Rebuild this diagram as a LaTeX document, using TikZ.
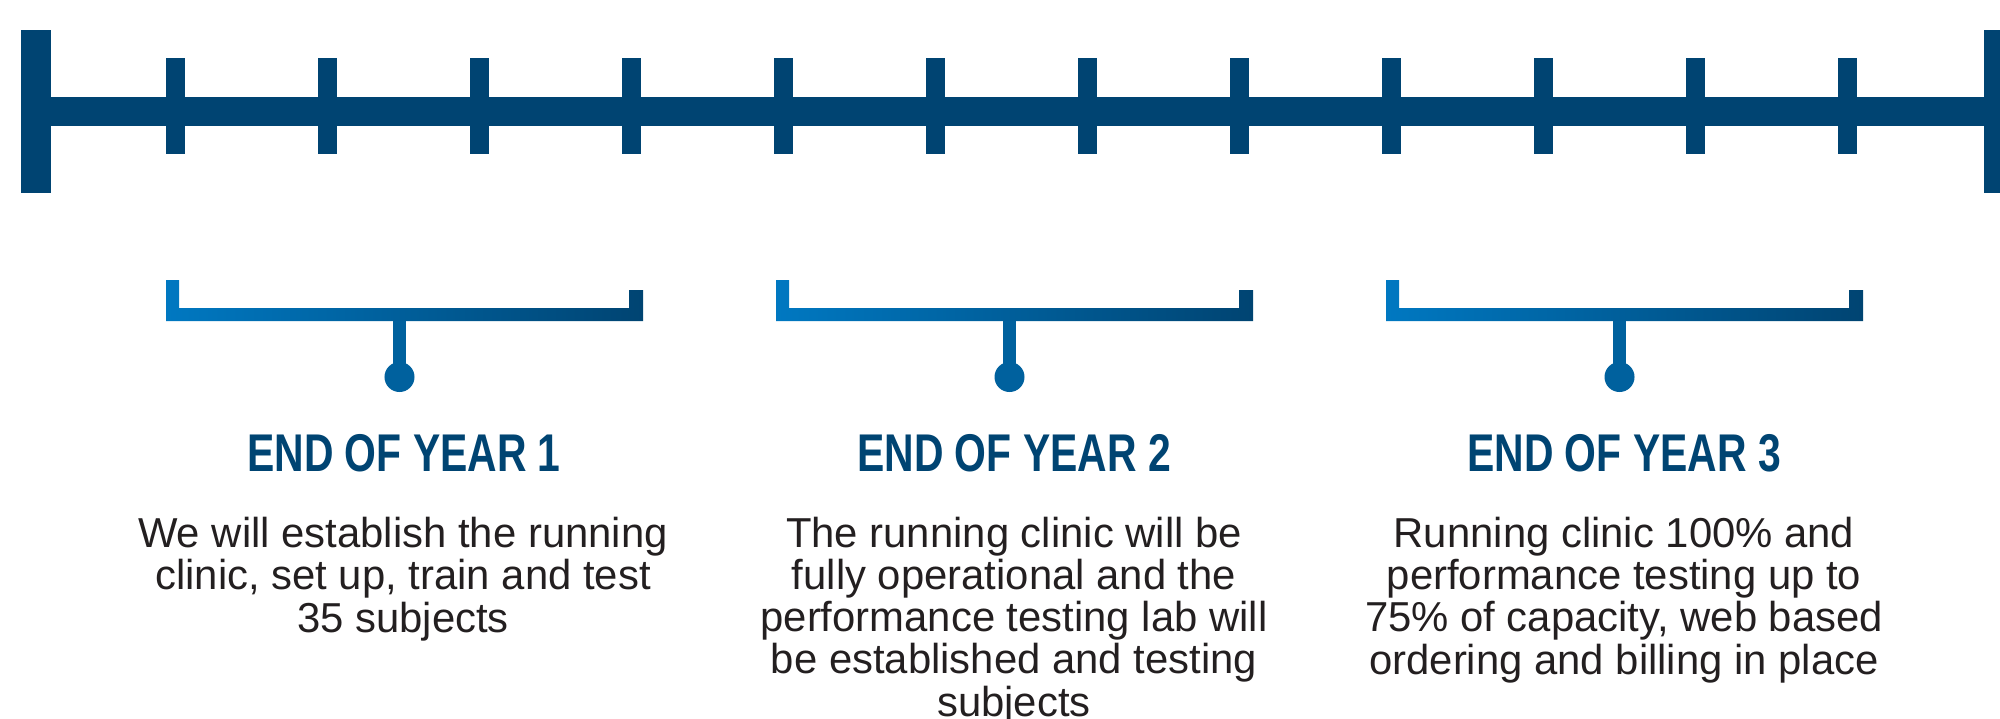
\documentclass[tikz,border=0pt]{standalone}
\usepackage{fontspec}
\setmainfont{Liberation Sans}
\newfontfamily\headfont[FakeStretch=0.77]{Liberation Sans}
\definecolor{navy}{RGB}{0,68,114}
\definecolor{lightblue}{RGB}{0,120,193}
\definecolor{midblue}{RGB}{0,97,158}
\definecolor{ink}{RGB}{35,31,32}
\tikzset{
  head/.style={anchor=base,text=navy,font=\headfont\bfseries\fontsize{15.1}{18}\selectfont},
  body/.style={anchor=base,align=center,text=ink,font=\fontsize{11.9}{11.95}\selectfont},
  pin/.style={circle,fill=midblue,minimum size=0.3cm,inner sep=0pt},
  stem/.style={midblue,line width=0.13cm},
  bracket/.style={left color=lightblue,right color=navy},
}
\begin{document}
\begin{tikzpicture}[x=0.01cm,y=-0.01cm]
\pgfmathsetmacro{\w}{610}
\pgfmathsetmacro{\t}{152}
\pgfmathsetmacro{\ll}{42}
\useasboundingbox (0,0) rectangle (2000,718);
%
\fill[navy] (36,97) rectangle (2000,126);
\fill[navy] (21,30) rectangle ++(30,163);
\fill[navy] (1984,30) rectangle ++(30,163);
\foreach \i in {0,...,11}
  \fill[navy] (166+\i*\t,58) rectangle ++(19,96);
%
\shade[bracket] (166,280) -- ++(13,0) -- ++(0,28) -- ++(450,0) -- ++(0,-18) -- ++(14,0) -- ++(0,31) -- ++(-477,0) -- cycle;
\coordinate (b1) at (399.5,321);
\node[pin] (p1) at (399.5,377) {};
\draw[stem] (b1) -- (p1.center);
\node[head] (h1) at (404,471) {END OF YEAR 1};
\node[body] (d1) at (403,548+2*\ll) {We will establish the running\\clinic, set up, train and test\\35 subjects};
%
\shade[bracket] (1*\w+166,280) -- ++(13,0) -- ++(0,28) -- ++(450,0) -- ++(0,-18) -- ++(14,0) -- ++(0,31) -- ++(-477,0) -- cycle;
\coordinate (b2) at (1*\w+399.5,321);
\node[pin] (p2) at (1*\w+399.5,377) {};
\draw[stem] (b2) -- (p2.center);
\node[head] (h2) at (1*\w+404,471) {END OF YEAR 2};
\node[body] (d2) at (1014,548+4*\ll) {The running clinic will be\\fully operational and the\\performance testing lab will\\be established and testing\\subjects};
%
\shade[bracket] (2*\w+166,280) -- ++(13,0) -- ++(0,28) -- ++(450,0) -- ++(0,-18) -- ++(14,0) -- ++(0,31) -- ++(-477,0) -- cycle;
\coordinate (b3) at (2*\w+399.5,321);
\node[pin] (p3) at (2*\w+399.5,377) {};
\draw[stem] (b3) -- (p3.center);
\node[head] (h3) at (2*\w+404,471) {END OF YEAR 3};
\node[body] (d3) at (1624,548+3*\ll) {Running clinic 100\% and\\performance testing up to\\75\% of capacity, web based\\ordering and billing in place};
\end{tikzpicture}
\end{document}
